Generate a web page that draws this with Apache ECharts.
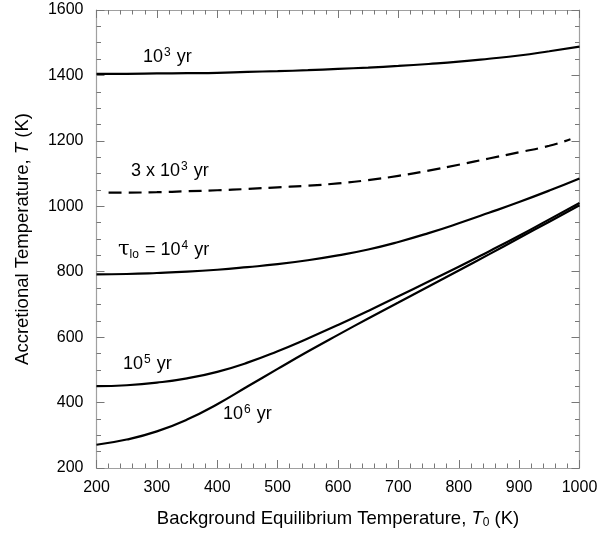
<!DOCTYPE html>
<html>
<head>
<meta charset="utf-8">
<script src="https://cdn.jsdelivr.net/npm/echarts@6/dist/echarts.min.js"></script>
<style>html,body{margin:0;padding:0;background:#fff}#c{width:603px;height:538px}</style>
</head>
<body>
<div id="c"></div>
<script>
// Background equilibrium temperature T0 (K)
var T0 = [200, 250, 300, 350, 400, 450, 500, 550, 600, 650, 700, 750, 800, 850, 900, 950, 1000];
// Accretional temperature T (K) for each tau_lo
var tau1e3 = [1405, 1405, 1406, 1407, 1408, 1411, 1413, 1416, 1420, 1424, 1429, 1435, 1442, 1451, 1461, 1474, 1488];
var tau1e4 = [792, 793, 796, 800, 806, 814, 823, 835, 850, 868, 891, 918, 948, 980, 1013, 1048, 1085];
var tau1e5 = [450, 453, 461, 474, 494, 522, 557, 596, 637, 680, 725, 770, 815, 862, 910, 960, 1010];
var tau1e6 = [271, 287, 312, 348, 395, 449, 503, 556, 607, 657, 706, 755, 804, 853, 903, 953, 1003];
// dashed 3x10^3 yr curve
var T0dash = [220, 250, 300, 350, 400, 450, 500, 550, 600, 650, 700, 750, 800, 850, 900, 950, 985];
var tau3e3 = [1042, 1042, 1043, 1046, 1049, 1053, 1058, 1063, 1070, 1080, 1093, 1109, 1127, 1146, 1165, 1185, 1205];

var xTicks = [200, 300, 400, 500, 600, 700, 800, 900, 1000];
var yTicks = [200, 400, 600, 800, 1000, 1200, 1400, 1600];

function pairs(xs, ys) { return xs.map(function (x, i) { return [x, ys[i]]; }); }

var FONT = '"Liberation Sans", Arial, Helvetica, sans-serif';
var richLbl = {
  n: { fontSize: 18, fontFamily: FONT, color: '#000' },
  sup: { fontSize: 12, fontFamily: FONT, color: '#000', verticalAlign: 'top', padding: [0, 1, 9, 1] },
  sub: { fontSize: 12, fontFamily: FONT, color: '#000', verticalAlign: 'bottom', padding: [9, 1, 0, 0] },
  tau: { fontSize: 21, fontFamily: '"DejaVu Serif", serif', color: '#000' }
};

var chart = echarts.init(document.getElementById('c'), null, { renderer: 'canvas' });
var axisCommon = {
  type: 'value',
  axisLine: { show: true, lineStyle: { color: '#a0a0a0', width: 1.2 } },
  axisTick: { show: true, inside: true, length: 8, lineStyle: { color: '#777', width: 1 } },
  minorTick: { show: true, length: 4.5, lineStyle: { color: '#777', width: 1 } },
  splitLine: { show: false }
};

var option = {
  animation: false,
  backgroundColor: '#fff',
  grid: { left: 96.5, right: 23.5, top: 10, bottom: 70, containLabel: false },
  xAxis: [
    Object.assign({}, axisCommon, {
      min: 200, max: 1000, interval: 100, position: 'bottom',
      minorTick: Object.assign({}, axisCommon.minorTick, { splitNumber: 5 }),
      axisLabel: { margin: 12, fontSize: 16, fontFamily: FONT, color: '#000',
        formatter: function (v) { return xTicks.indexOf(v) >= 0 ? String(v) : ''; } },
      name: '{n|Background Equilibrium Temperature, }{i|T}{sub|0}{n| (K)}',
      nameLocation: 'middle', nameGap: 40,
      nameTextStyle: { rich: {
        n: { fontSize: 18.5, fontFamily: FONT, color: '#000' },
        i: { fontSize: 18.5, fontFamily: FONT, fontStyle: 'italic', color: '#000' },
        sub: { fontSize: 12, fontFamily: FONT, color: '#000', verticalAlign: 'bottom', padding: [9, 0, 0, 0] }
      } }
    }),
    Object.assign({}, axisCommon, {
      min: 200, max: 1000, interval: 100, position: 'top',
      minorTick: Object.assign({}, axisCommon.minorTick, { splitNumber: 5 }),
      axisLabel: { show: false }
    })
  ],
  yAxis: [
    Object.assign({}, axisCommon, {
      min: 200, max: 1600, interval: 200, position: 'left',
      minorTick: Object.assign({}, axisCommon.minorTick, { splitNumber: 4 }),
      axisLabel: { margin: 13, fontSize: 16, fontFamily: FONT, color: '#000',
        formatter: function (v) { return yTicks.indexOf(v) >= 0 ? String(v) : ''; } },
      name: '{n|Accretional Temperature, }{i|T}{n| (K)}',
      nameLocation: 'middle', nameGap: 64, nameRotate: 90,
      nameTextStyle: { rich: {
        n: { fontSize: 18.5, fontFamily: FONT, color: '#000' },
        i: { fontSize: 18.5, fontFamily: FONT, fontStyle: 'italic', color: '#000' }
      } }
    }),
    Object.assign({}, axisCommon, {
      min: 200, max: 1600, interval: 200, position: 'right',
      minorTick: Object.assign({}, axisCommon.minorTick, { splitNumber: 4 }),
      axisLabel: { show: false }
    })
  ],
  series: [
    { type: 'line', data: pairs(T0, tau1e3), smooth: 0.5, symbol: 'none', lineStyle: { color: '#000', width: 2.2 } },
    { type: 'line', data: pairs(T0dash, tau3e3), smooth: 0.5, symbol: 'none', lineStyle: { color: '#000', width: 2.2, type: [13, 7] } },
    { type: 'line', data: pairs(T0, tau1e4), smooth: 0.5, symbol: 'none', lineStyle: { color: '#000', width: 2.2 } },
    { type: 'line', data: pairs(T0, tau1e5), smooth: 0.5, symbol: 'none', lineStyle: { color: '#000', width: 2.2 } },
    { type: 'line', data: pairs(T0, tau1e6), smooth: 0.5, symbol: 'none', lineStyle: { color: '#000', width: 2.2 } }
  ],
  graphic: [
    { type: 'text', x: 143, y: 57, style: { text: '{n|10}{sup|3}{n| yr}', rich: richLbl, verticalAlign: 'middle', align: 'left' } },
    { type: 'text', x: 131, y: 171, style: { text: '{n|3 x 10}{sup|3}{n| yr}', rich: richLbl, verticalAlign: 'middle', align: 'left' } },
    { type: 'text', x: 118, y: 250, style: { text: '{tau|τ}{sub|lo}{n| = 10}{sup|4}{n| yr}', rich: richLbl, verticalAlign: 'middle', align: 'left' } },
    { type: 'text', x: 123, y: 364, style: { text: '{n|10}{sup|5}{n| yr}', rich: richLbl, verticalAlign: 'middle', align: 'left' } },
    { type: 'text', x: 223, y: 414, style: { text: '{n|10}{sup|6}{n| yr}', rich: richLbl, verticalAlign: 'middle', align: 'left' } }
  ]
};
chart.setOption(option);
</script>
</body>
</html>
